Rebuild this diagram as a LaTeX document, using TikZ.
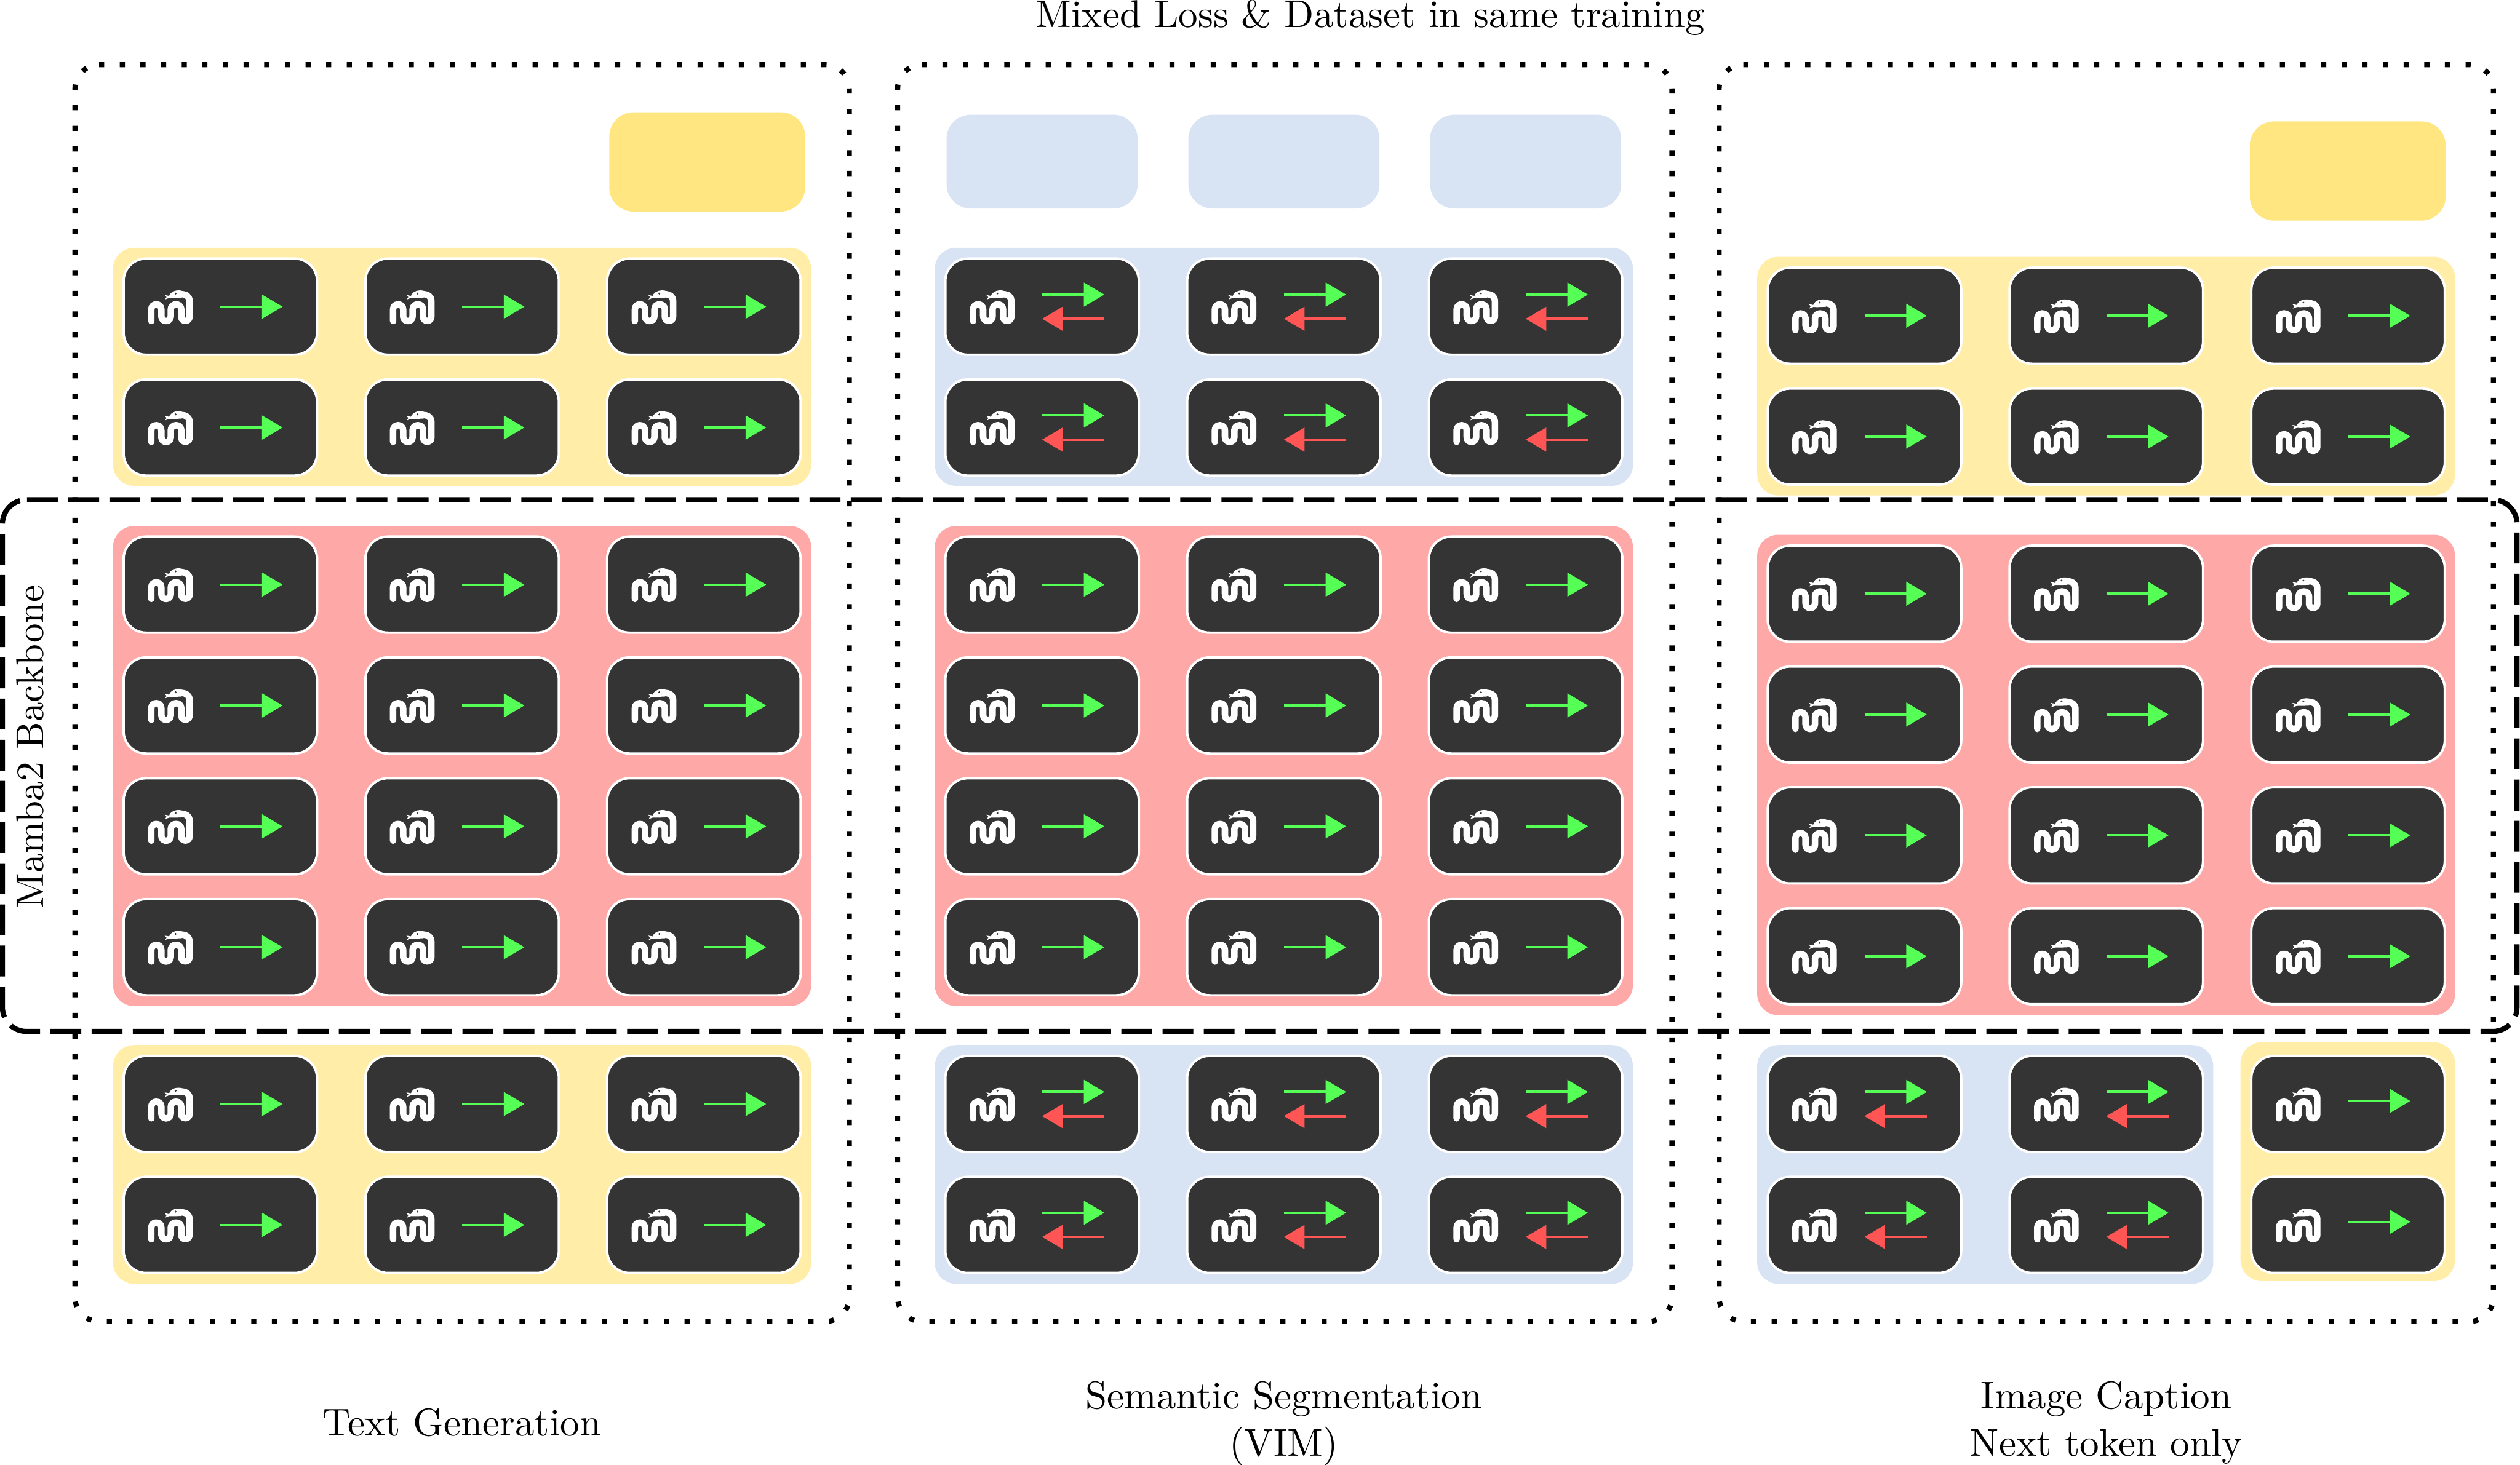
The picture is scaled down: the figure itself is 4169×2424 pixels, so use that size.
\documentclass[tikz,border=0pt]{standalone}
\usetikzlibrary{arrows.meta}
\definecolor{softyellow}{HTML}{FFEDA8}
\definecolor{strongyellow}{HTML}{FFE680}
\definecolor{softblue}{HTML}{D8E3F4}
\definecolor{softred}{HTML}{FFA8A8}
\definecolor{carddark}{HTML}{343434}
\definecolor{fwdgreen}{HTML}{55FF55}
\definecolor{bwdred}{HTML}{FF5555}
\tikzset{
  band/.style={rounded corners=0.35cm},
  mamcard/.style={rectangle,fill=carddark,draw=white,line width=0.04cm,rounded corners=0.37cm,minimum width=3.2cm,minimum height=1.59cm,inner sep=0pt},
  headblue/.style={rectangle,fill=softblue,rounded corners=0.4cm,minimum width=3.16cm,minimum height=1.55cm,inner sep=0pt},
  headyellow/.style={rectangle,fill=strongyellow,rounded corners=0.4cm,minimum width=3.24cm,minimum height=1.64cm,inner sep=0pt},
  dotbox/.style={draw=black,line width=0.085cm,dash pattern=on 0.085cm off 0.2562cm,rounded corners=0.4cm},
  dashbox/.style={draw=black,line width=0.085cm,dash pattern=on 0.51cm off 0.171cm,rounded corners=0.4cm},
  fwd/.style={draw=fwdgreen,line width=0.04cm,-{Triangle[length=0.34cm,width=0.39cm,fill=fwdgreen]}},
  bwd/.style={draw=bwdred,line width=0.04cm,-{Triangle[length=0.34cm,width=0.39cm,fill=bwdred]}},
  label/.style={scale=1.825,inner sep=0pt,align=center,anchor=base}
}
\newcommand{\snakeat}[1]{%
  \begin{scope}[shift={(#1)},shift={(-124.5,-37.5)},x=0.003333cm,y=-0.003333cm]
    \draw[white,line width=0.107cm,line cap=round,line join=round]
      (31,184) -- (31,126) .. controls (31,93) and (81,93) .. (81,126)
      -- (81,160) .. controls (81,192) and (128,192) .. (128,160)
      -- (128,126) .. controls (128,93) and (180,93) .. (180,126)
      -- (180,163) .. controls (180,190) and (221,190) .. (221,163)
      -- (221,85) .. controls (221,62) and (205,50) .. (175,50);
    \fill[white] (182,33) .. controls (155,29) and (135,35) .. (124,50)
      .. controls (121,54) .. (120,59) -- (97,55) -- (107,65) -- (99,77) -- (120,69)
      .. controls (140,70) .. (182,68) -- cycle;
    \fill[carddark] (152,47) circle[radius=5];
  \end{scope}}
\newcommand{\onecard}[3]{%
  \node[mamcard] (#1) at (#2,#3) {};
  \snakeat{#1.center}%
  \draw[fwd] (#1.center) -- ([xshift=1.03cm]#1.center);}
\newcommand{\twocard}[3]{%
  \node[mamcard] (#1) at (#2,#3) {};
  \snakeat{#1.center}%
  \draw[fwd] ([yshift=0.2cm]#1.center) -- ([xshift=1.03cm,yshift=0.2cm]#1.center);
  \draw[bwd] ([xshift=1.03cm,yshift=-0.2cm]#1.center) -- ([yshift=-0.2cm]#1.center);}
\begin{document}
\begin{tikzpicture}[x=0.01cm,y=-0.01cm]
\useasboundingbox (0,0) rectangle (4169,2424);
% --- dotted task frames
\draw[dotbox] (164,107) -- (1405,107) -- (1405,2187) -- (124,2187) -- (124,107) -- (164,107);
\draw[dotbox] (1525,107) -- (2766,107) -- (2766,2187) -- (1485,2187) -- (1485,107) -- (1525,107);
\draw[dotbox] (2884,107) -- (4125,107) -- (4125,2187) -- (2844,2187) -- (2844,107) -- (2884,107);
% --- bands
\fill[softyellow,band] (187,410) rectangle (1342,804);
\fill[softred,band] (187,870.5) rectangle (1342,1665);
\fill[softyellow,band] (187,1729.5) rectangle (1342,2124.5);
\fill[softblue,band] (1546.5,410) rectangle (2701.5,804);
\fill[softred,band] (1546.5,870.5) rectangle (2701.5,1665);
\fill[softblue,band] (1546.5,1729.5) rectangle (2701.5,2124.5);
\fill[softyellow,band] (2907,425) rectangle (4061.5,820);
\fill[softred,band] (2907,885) rectangle (4061.5,1680);
\fill[softblue,band] (2907,1729.5) rectangle (3661.5,2124.5);
\fill[softyellow,band] (3706.5,1725) rectangle (4061.5,2120);
% --- head boxes
\node[headyellow] (hy1) at (1170,268) {};
\node[headblue] (hb1) at (1724,267.5) {};
\node[headblue] (hb2) at (2124,267.5) {};
\node[headblue] (hb3) at (2524,267.5) {};
\node[headyellow] (hy3) at (3884,283) {};
% --- panel 1 cards
\foreach \cx [count=\i] in {364.5,764.5,1164.5}{
  \foreach \cy [count=\j] in {507.5,707.5,967.5,1167.5,1367.5,1567.5,1827,2027}{
    \onecard{a\i\j}{\cx}{\cy}
  }
}
% --- panel 2 cards
\foreach \cx [count=\i] in {1724,2124,2524}{
  \foreach \cy [count=\j] in {507.5,707.5}{
    \twocard{bt\i\j}{\cx}{\cy}
  }
  \foreach \cy [count=\j] in {967.5,1167.5,1367.5,1567.5}{
    \onecard{bm\i\j}{\cx}{\cy}
  }
  \foreach \cy [count=\j] in {1827,2027}{
    \twocard{bb\i\j}{\cx}{\cy}
  }
}
% --- panel 3 cards
\foreach \cx [count=\i] in {3084.5,3484.5,3884.5}{
  \foreach \cy [count=\j] in {522.5,722.5,982.5,1182.5,1382.5,1582.5}{
    \onecard{c\i\j}{\cx}{\cy}
  }
}
\foreach \cx [count=\i] in {3084.5,3484.5}{
  \foreach \cy [count=\j] in {1827,2027}{
    \twocard{cb\i\j}{\cx}{\cy}
  }
}
\foreach \cy [count=\j] in {1827,2027}{
  \node[mamcard] (cy\j) at (3884.5,\cy) {};
  \snakeat{cy\j.center}
  \draw[fwd] ([yshift=0.05cm]cy\j.center) -- ([xshift=1.03cm,yshift=0.05cm]cy\j.center);
}
% --- dashed backbone frame
\draw[dashbox] (44.7,827) -- (4164,827) -- (4164,1707) -- (4,1707) -- (4,827) -- (44.7,827);
% --- labels
\node[label] (toptitle) at (2267,45) {Mixed Loss \& Dataset in same training};
\node[label,rotate=90] (mamba) at (72,1236) {Mamba2 Backbone};
\node[label] (task1) at (764.5,2376) {Text Generation};
\node[label] (task2) at (2124,2410) {Semantic Segmentation\\[0.34pt](VIM)};
\node[label] (task3) at (3484.5,2410) {Image Caption\\[0.34pt]Next token only};
\end{tikzpicture}
\end{document}
